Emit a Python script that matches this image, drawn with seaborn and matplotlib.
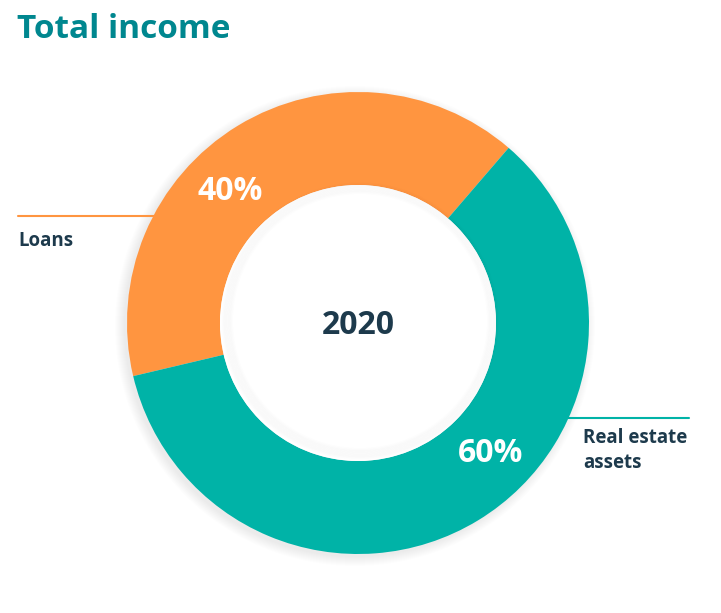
import matplotlib
matplotlib.use('Agg')
import matplotlib.pyplot as plt
import seaborn as sns
from matplotlib.patches import Circle

# ── Data ─────────────────────────────────────────────────────────────────────
categories = ['Loans', 'Real estate\nassets']
shares = [40, 60]
pct_labels = ['40%', '60%']
colors = ['#FF9540', '#00B3A7']
center_label = '2020'
title = 'Total income'

sns.set_theme(style='white')
plt.rcParams['font.family'] = ['Open Sans', 'DejaVu Sans']

W, H = 721, 613
fig = plt.figure(figsize=(W / 100, H / 100), dpi=100)
ax = fig.add_axes([0, 0, 1, 1])

cx, cy = 358, H - 323
r_out, r_in = 231, 138

# soft shadow behind the ring
for i in range(10):
    ax.add_patch(Circle((cx - 3, cy - 3), r_out + 9 - i, color='#000000',
                        alpha=0.007, lw=0, zorder=1))

wedges, _ = ax.pie(shares, colors=colors, startangle=49.3, counterclock=True,
                   center=(cx, cy), radius=r_out,
                   wedgeprops=dict(width=r_out - r_in, linewidth=0))
for w in wedges:
    w.set_zorder(2)
ax.set_xlim(0, W)
ax.set_ylim(0, H)
ax.set_aspect('equal')
ax.axis('off')

# hole with a faint inner shadow
ax.add_patch(Circle((cx, cy), r_in, color='white', lw=0, zorder=3))
for i in range(8):
    ax.add_patch(Circle((cx + 2, cy + 2), r_in - 1 - i * 1.2, fill=False,
                        ec='#000000', alpha=0.006, lw=2.5, zorder=3))

ax.text(cx, cy - 2, center_label, ha='center', va='center', fontsize=23,
        fontweight='bold', color='#1D3A4C', zorder=5)

ax.text(230, H - 192, pct_labels[0], ha='center', va='center', fontsize=23,
        fontweight='bold', color='white', zorder=5)
ax.text(491, H - 454, pct_labels[1], ha='center', va='center', fontsize=23,
        fontweight='bold', color='white', zorder=5)

# leader lines and category labels
ax.plot([18, 156], [H - 216, H - 216], color=colors[0], lw=1.5, zorder=1)
ax.text(18, H - 241, categories[0], ha='left', va='center', fontsize=13.5,
        fontweight='bold', color='#1D3A4C')
ax.plot([568, 689], [H - 418, H - 418], color=colors[1], lw=1.5, zorder=1)
ax.text(583, H - 428, categories[1], ha='left', va='top', fontsize=13.5,
        fontweight='bold', color='#1D3A4C', linespacing=1.35)

ax.text(17, H - 30, title, ha='left', va='center', fontsize=24,
        fontweight='bold', color='#00878F')

plt.savefig('out.png', dpi=100)
